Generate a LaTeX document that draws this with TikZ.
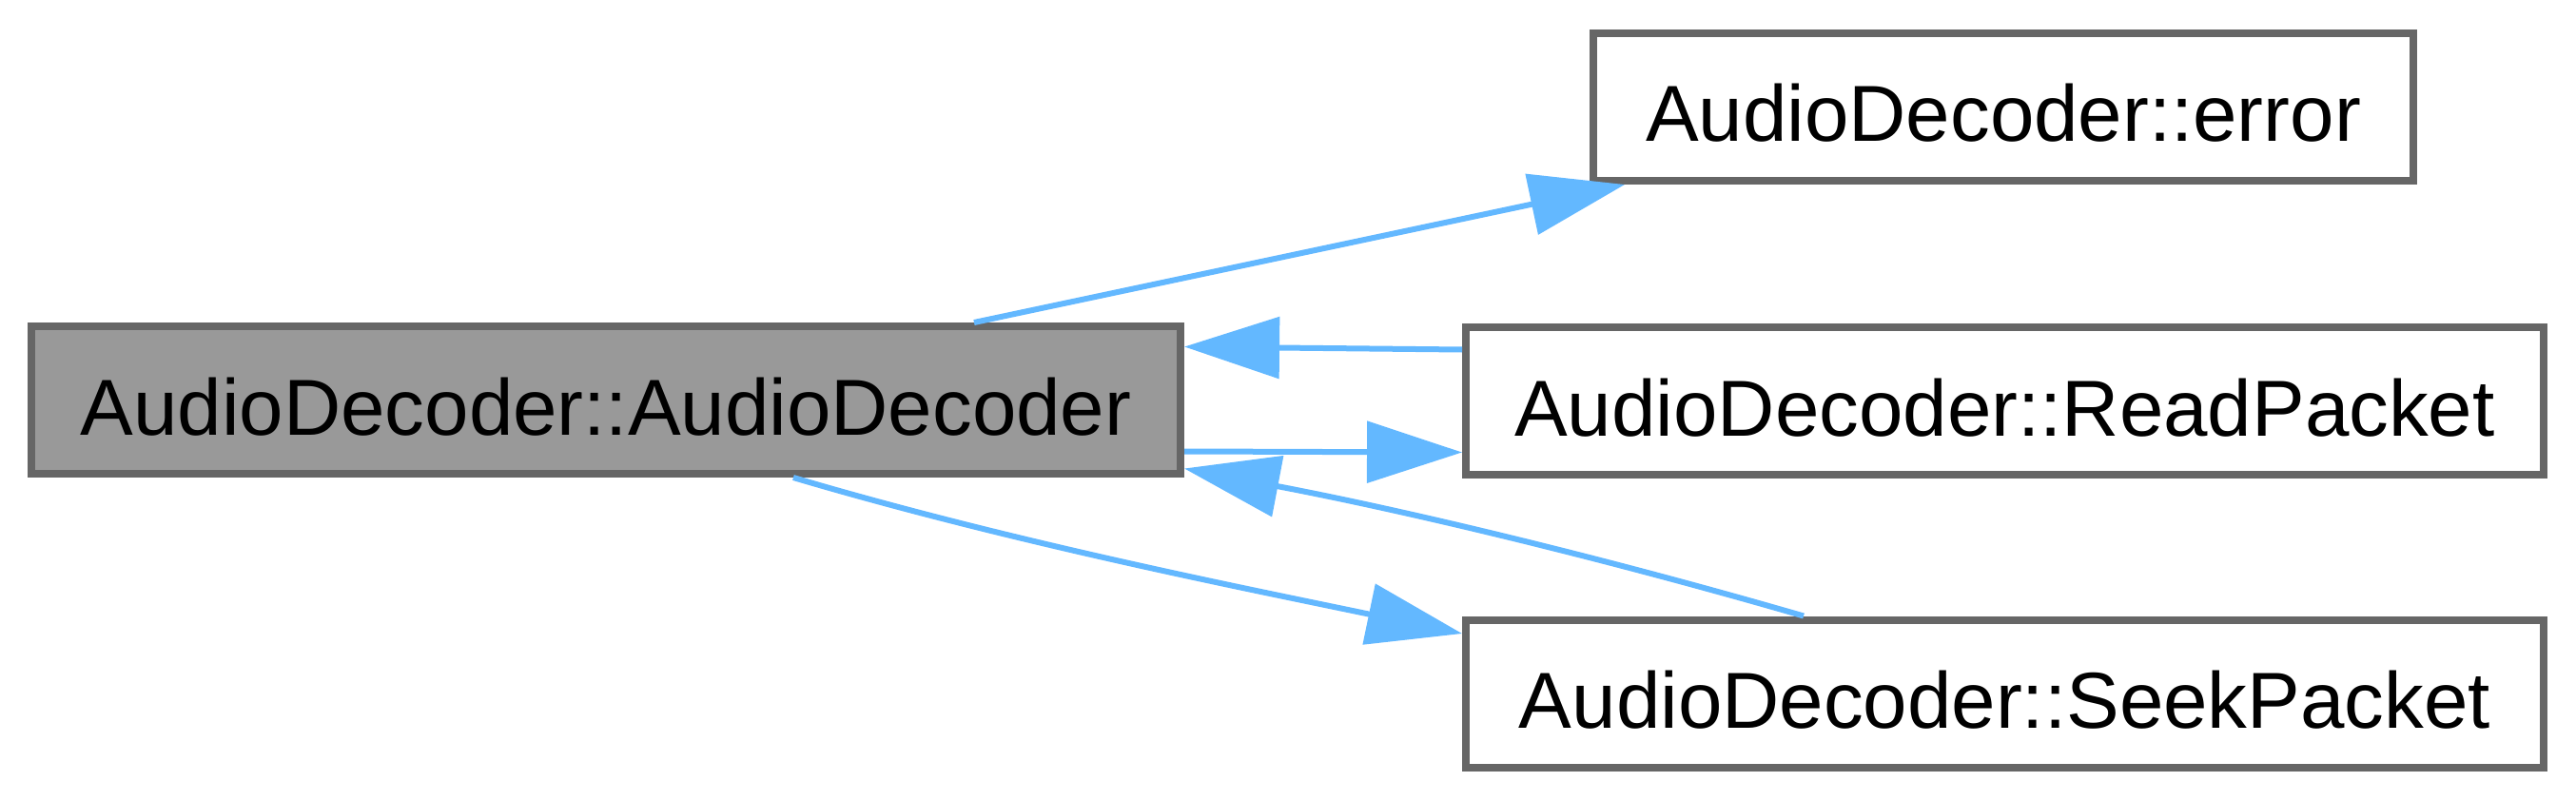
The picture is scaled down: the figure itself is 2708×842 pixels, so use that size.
\documentclass[tikz,border=0pt]{standalone}
\usepackage{fontspec}
\setmainfont{Liberation Sans}
\usetikzlibrary{arrows.meta}
\definecolor{edgeblue}{HTML}{63B8FF}
\definecolor{boxline}{HTML}{666666}
\definecolor{boxfill}{HTML}{999999}
\begin{document}
\begin{tikzpicture}[x=1pt,y=-1pt,
  box/.style={draw=boxline, line width=8pt, minimum height=155pt, inner sep=0pt,
    text height=73pt, text depth=0pt,
    font=\fontsize{83.5}{100}\selectfont, anchor=center},
  call/.style={draw=edgeblue, line width=6pt, -{Triangle[length=100pt,width=64pt]}}]
\useasboundingbox[fill=white] (0,0) rectangle (2708,842);
\node[box, fill=boxfill, minimum width=1208pt] (main) at (637,420.5) {AudioDecoder::AudioDecoder};
\node[box, fill=white, minimum width=862pt] (err) at (2106,112.5) {AudioDecoder::error};
\node[box, fill=white, minimum width=1133pt] (read) at (2107.5,421.5) {AudioDecoder::ReadPacket};
\node[box, fill=white, minimum width=1133pt] (seek) at (2107.5,729) {AudioDecoder::SeekPacket};
\draw[call] ([xshift=995pt]main.north west) -- ([xshift=37pt]err.south west);
\draw[call] ([yshift=54pt]read.west) -- ([yshift=56pt]main.east);
\draw[call] ([yshift=-54pt]main.east) -- ([yshift=-54pt]read.west);
\draw[call] ([xshift=359pt]seek.north west) .. controls +(-221,-64) and +(226,43) .. ([yshift=-72pt]main.east);
\draw[call] ([xshift=805pt]main.south west) .. controls +(230,68) and +(-235,-49) .. ([yshift=63pt]seek.west);
\end{tikzpicture}
\end{document}
